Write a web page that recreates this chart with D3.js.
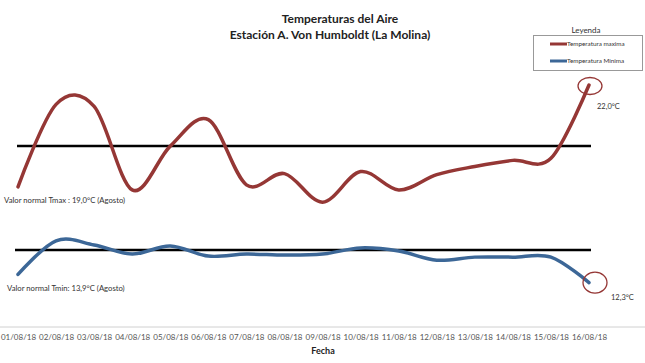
<!DOCTYPE html>
<html>
<head>
<meta charset="utf-8">
<script src="https://cdn.jsdelivr.net/npm/d3@7"></script>
<style>
  body { margin: 0; background: #fff; }
  text { font-family: Lato, "Liberation Sans", sans-serif; fill: #333; }
</style>
</head>
<body>
<div id="chart"></div>
<script>
// fechas (eje x)
var fechas = ["01/08/18","02/08/18","03/08/18","04/08/18","05/08/18","06/08/18","07/08/18","08/08/18",
              "09/08/18","10/08/18","11/08/18","12/08/18","13/08/18","14/08/18","15/08/18","16/08/18"];
// temperatura maxima (°C)
var tmax = [17.0, 21.05, 20.95, 16.85, 19.0, 20.3, 17.1, 17.65, 16.25, 17.75, 16.85, 17.6, 18.0, 18.3, 18.4, 22.0];
// temperatura minima (°C)
var tmin = [12.7, 14.35, 14.15, 13.7, 14.1, 13.6, 13.7, 13.65, 13.7, 14.0, 13.85, 13.4, 13.55, 13.55, 13.55, 12.3];
// valores normales (agosto)
var normalTmax = 19.0;
var normalTmin = 13.9;

var width = 645, height = 363;

var svg = d3.select("#chart").append("svg")
    .attr("width", width)
    .attr("height", height);

var x = d3.scalePoint().domain(fechas).range([18, 589]);
var y = d3.scaleLinear().domain([12, 22]).range([288.7, 85]);

// titulo
svg.append("text").attr("x", 340).attr("y", 23).attr("text-anchor", "middle")
    .style("font-weight", "bold").style("font-size", "12px").style("fill", "#222")
    .text("Temperaturas del Aire");
svg.append("text").attr("x", 330).attr("y", 39).attr("text-anchor", "middle")
    .style("font-weight", "bold").style("font-size", "12px").style("fill", "#222")
    .text("Estación A. Von Humboldt (La Molina)");

// eje x
svg.append("line").attr("x1", 0).attr("x2", width).attr("y1", 327).attr("y2", 327)
    .attr("stroke", "#d0d0d0").attr("stroke-width", 1);

var xAxis = svg.append("g")
    .attr("transform", "translate(0,327)")
    .call(d3.axisBottom(x).tickSize(0).tickPadding(7));
xAxis.select(".domain").remove();
xAxis.selectAll("text").style("font-size", "8px").style("fill", "#555")
    .style("font-family", "Lato, 'Liberation Sans', sans-serif");

svg.append("text").attr("x", 323).attr("y", 354).attr("text-anchor", "middle")
    .style("font-weight", "bold").style("font-size", "9px").style("fill", "#222")
    .text("Fecha");

// lineas normales
svg.append("line").attr("x1", 17).attr("x2", 591)
    .attr("y1", y(normalTmax)).attr("y2", y(normalTmax))
    .attr("stroke", "#000").attr("stroke-width", 2.5);
svg.append("line").attr("x1", 15).attr("x2", 591)
    .attr("y1", y(normalTmin)).attr("y2", y(normalTmin))
    .attr("stroke", "#000").attr("stroke-width", 2.5);

// series suavizadas
var line = d3.line()
    .x(function (d, i) { return x(fechas[i]); })
    .y(function (d) { return y(d); })
    .curve(d3.curveCardinal.tension(0));

svg.append("path").datum(tmax).attr("d", line)
    .attr("fill", "none").attr("stroke", "#953735").attr("stroke-width", 3.5)
    .attr("stroke-linecap", "round");
svg.append("path").datum(tmin).attr("d", line)
    .attr("fill", "none").attr("stroke", "#3c6797").attr("stroke-width", 3.5)
    .attr("stroke-linecap", "round");

// etiquetas normales
svg.append("text").attr("x", 4).attr("y", 203).style("font-size", "7.7px")
    .text("Valor normal Tmax :  19,0°C (Agosto)");
svg.append("text").attr("x", 7).attr("y", 291).style("font-size", "7.7px")
    .text("Valor normal Tmin: 13,9°C (Agosto)");

// circulos en el ultimo dia
var last = fechas.length - 1;
svg.append("ellipse").attr("cx", x(fechas[last]) + 1).attr("cy", y(tmax[last]) + 1)
    .attr("rx", 12).attr("ry", 8.5)
    .attr("fill", "none").attr("stroke", "#953735").attr("stroke-width", 1.3);
svg.append("ellipse").attr("cx", x(fechas[last]) + 6).attr("cy", y(tmin[last]))
    .attr("rx", 12).attr("ry", 10.5)
    .attr("fill", "none").attr("stroke", "#953735").attr("stroke-width", 1.3);

svg.append("text").attr("x", 597).attr("y", 109).style("font-size", "7.5px")
    .text("22,0°C");
svg.append("text").attr("x", 611).attr("y", 300).style("font-size", "7.5px")
    .text("12,3°C");

// leyenda
svg.append("text").attr("x", 586).attr("y", 33).attr("text-anchor", "middle")
    .style("font-size", "8px").text("Leyenda");
svg.append("rect").attr("x", 533.5).attr("y", 35.5).attr("width", 109).attr("height", 35)
    .attr("fill", "#fff").attr("stroke", "#999").attr("stroke-width", 1);

var leyenda = [{ nombre: "Temperatura maxima", color: "#953735" },
               { nombre: "Temperatura Minima", color: "#3c6797" }];
leyenda.forEach(function (d, i) {
    var ly = 44 + i * 17;
    svg.append("line").attr("x1", 550).attr("x2", 567).attr("y1", ly).attr("y2", ly)
        .attr("stroke", d.color).attr("stroke-width", 3);
    svg.append("text").attr("x", 567).attr("y", ly + 2.3).style("font-size", "6.3px")
        .text(d.nombre);
});
</script>
</body>
</html>
